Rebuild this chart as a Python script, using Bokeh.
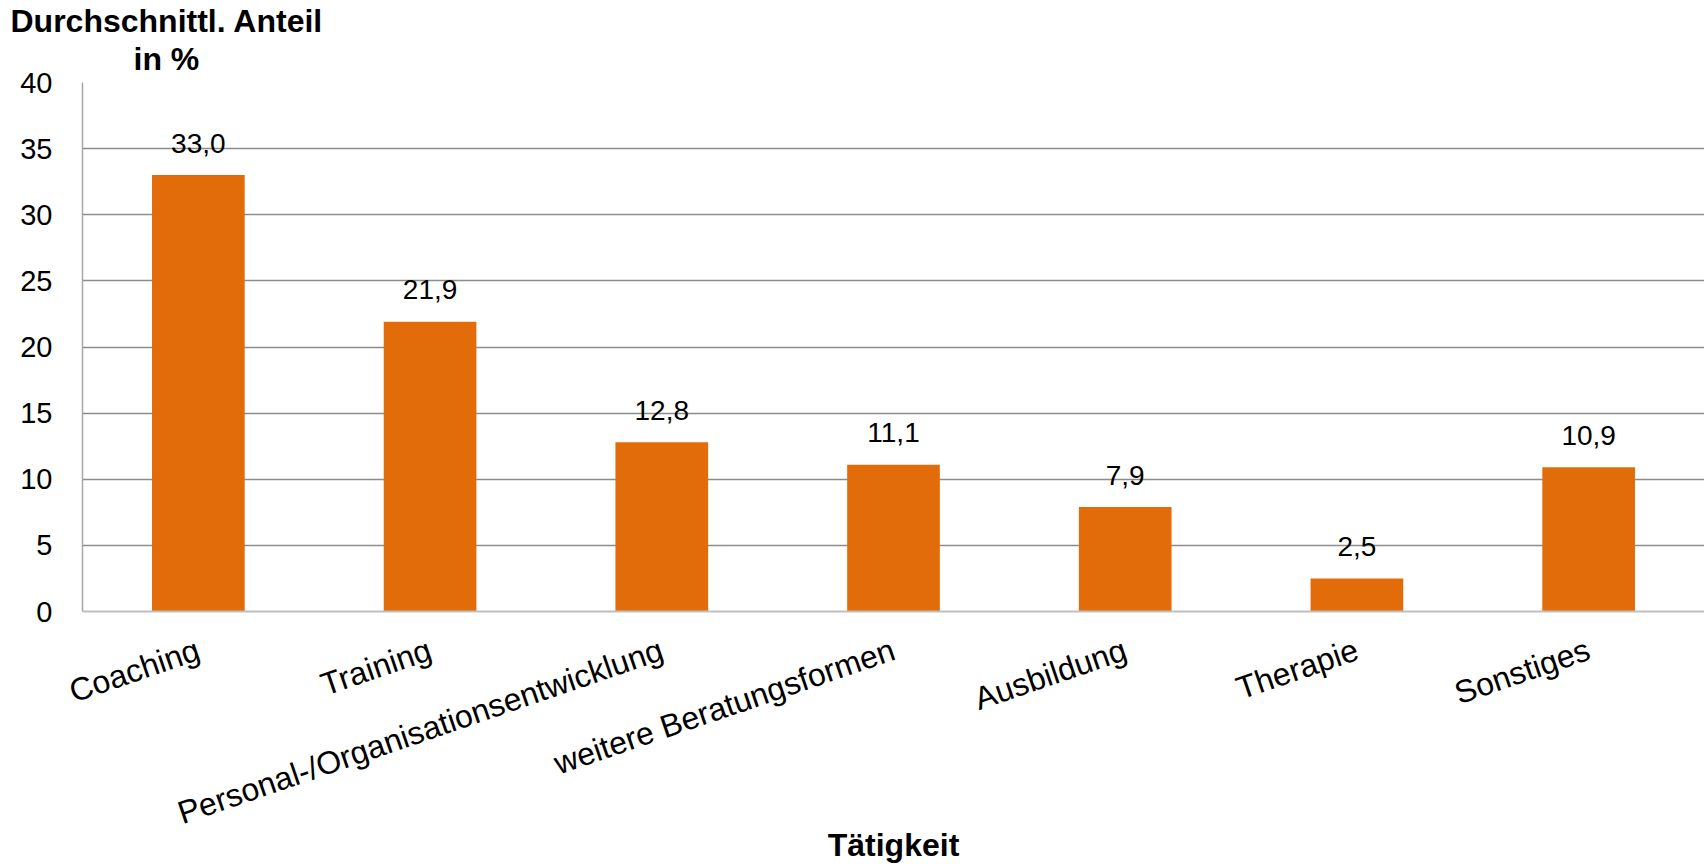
from bokeh.plotting import figure
from bokeh.models import FactorRange, Range1d, ColumnDataSource, Title, FixedTicker
from bokeh.embed import file_html
from bokeh.resources import INLINE
from bokeh.core.properties import value

categories = ["Coaching", "Training", "Personal-/Organisationsentwicklung",
              "weitere Beratungsformen", "Ausbildung", "Therapie", "Sonstiges"]
values = [33.0, 21.9, 12.8, 11.1, 7.9, 2.5, 10.9]
y_ticks = [0, 5, 10, 15, 20, 25, 30, 35, 40]
y_title_lines = ["Durchschnittl. Anteil", "in %"]
x_title = "Tätigkeit"

value_labels = [f"{v:.1f}".replace(".", ",") for v in values]
src = ColumnDataSource(data=dict(cat=categories, val=values, lbl=value_labels))

p = figure(x_range=FactorRange(*categories, range_padding=0),
           y_range=Range1d(0, 40),
           width=1704, height=865, title=None,
           output_backend="svg", toolbar_location=None,
           min_border_left=82, min_border_right=0,
           min_border_top=82, min_border_bottom=254)

p.outline_line_color = None
p.background_fill_color = "white"

p.vbar(x="cat", top="val", width=0.4, source=src,
       fill_color="#E36C0A", line_color=None)

p.text(x="cat", y="val", text="lbl", source=src,
       text_align="center", text_baseline="alphabetic", y_offset=-32,
       text_font=value("Liberation Sans"), text_font_size="28px",
       text_color="black")

# grid
p.xgrid.grid_line_color = None
p.ygrid.ticker = FixedTicker(ticks=y_ticks)
p.ygrid.grid_line_color = "#8c8c8c"
p.ygrid.grid_line_width = 1.5

# y axis
ya = p.yaxis[0]
ya.ticker = FixedTicker(ticks=y_ticks)
ya.major_tick_line_color = None
ya.minor_tick_line_color = None
ya.major_tick_out = 0
ya.major_tick_in = 0
ya.axis_line_color = "#a6a6a6"
ya.axis_line_width = 1.5
ya.major_label_text_font = "Liberation Sans"
ya.major_label_text_font_size = "29px"
ya.major_label_text_color = "black"
ya.major_label_standoff = 30

# x axis
xa = p.xaxis[0]
xa.major_tick_line_color = None
xa.major_tick_out = 0
xa.major_tick_in = 0
xa.axis_line_color = "#bfbfbf"
xa.axis_line_width = 2
xa.major_label_orientation = 0.33
xa.major_label_text_font = "Liberation Sans"
xa.major_label_text_font_size = "32px"
xa.major_label_text_color = "black"
xa.major_label_standoff = 37
xa.axis_label = x_title
xa.axis_label_text_font = "Liberation Sans"
xa.axis_label_text_font_style = "bold"
xa.axis_label_text_font_size = "32px"
xa.axis_label_text_color = "black"
xa.axis_label_standoff = -24

# y axis title (two horizontal lines above the axis)
t2 = Title(text=y_title_lines[1], align="left", offset=51, standoff=12,
           vertical_align="bottom", text_font="Liberation Sans",
           text_font_style="bold", text_font_size="32px", text_color="black")
t1 = Title(text=y_title_lines[0], align="left", offset=-72, standoff=-12,
           vertical_align="bottom", text_font="Liberation Sans",
           text_font_style="bold", text_font_size="32px", text_color="black")
p.add_layout(t2, "above")
p.add_layout(t1, "above")

open("out.html", "w").write(file_html(p, INLINE))
